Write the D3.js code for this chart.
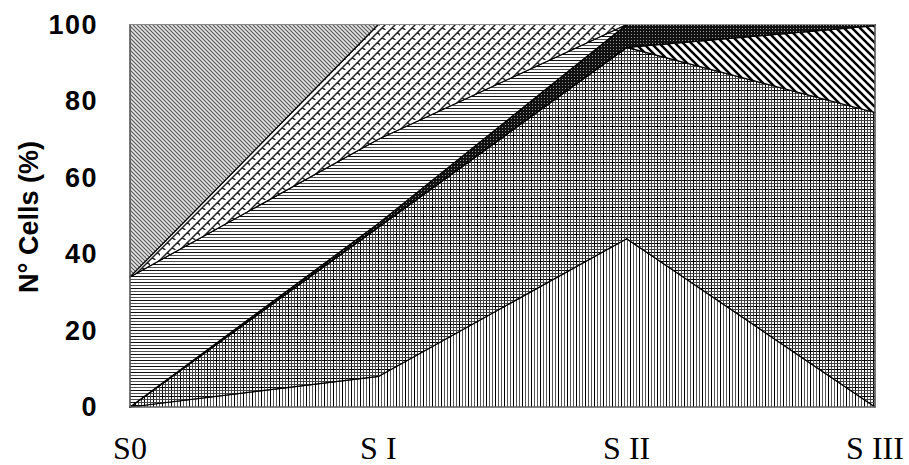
<html>
<head>
<meta charset="utf-8">
<script src="https://cdn.jsdelivr.net/npm/d3@7/dist/d3.min.js"></script>
<style>
  body { margin: 0; background: #fff; }
</style>
</head>
<body>
<div id="chart"></div>
<script>
// stages along the x axis
var categories = ["S0", "S I", "S II", "S III"];
// series, bottom of the stack first (percent of cells)
var vertical   = [0, 8, 44, 0];
var grid       = [0, 39, 50, 77];
var wideDiag   = [0, 0, 0, 22.7];
var dark       = [0, 1, 6, 0.3];
var horizontal = [34, 22, 0, 0];
var brick      = [0, 30, 0, 0];
var fineDiag   = [66, 0, 0, 0];
var yTicks = [0, 20, 40, 60, 80, 100];

var seriesNames = ["vertical", "grid", "wideDiag", "dark", "horizontal", "brick", "fineDiag"];
var seriesVals = [vertical, grid, wideDiag, dark, horizontal, brick, fineDiag];

var rows = categories.map(function (c, i) {
  var r = { cat: c };
  seriesNames.forEach(function (n, k) { r[n] = seriesVals[k][i]; });
  return r;
});

var W = 909, H = 465;
var svg = d3.select("#chart").append("svg").attr("width", W).attr("height", H);
var defs = svg.append("defs");

// hatch fills, roughly like the office patterns
function pat(id, w, h) {
  return defs.append("pattern").attr("id", id).attr("patternUnits", "userSpaceOnUse")
    .attr("width", w).attr("height", h);
}
var p;
p = pat("p-vertical", 9, 3);
p.append("rect").attr("width", 9).attr("height", 3).attr("fill", "#fff");
[0, 3, 6].forEach(function (v, i) {
  p.append("rect").attr("x", v).attr("width", 1).attr("height", 3).attr("fill", i == 0 ? "#000" : "#555");
});

p = pat("p-grid", 9, 9);
p.append("rect").attr("width", 9).attr("height", 9).attr("fill", "#fff");
[0, 3, 6].forEach(function (v, i) {
  var c = i == 0 ? "#000" : "#444";
  p.append("rect").attr("x", v).attr("width", 1).attr("height", 9).attr("fill", c);
  p.append("rect").attr("y", v).attr("width", 9).attr("height", 1).attr("fill", c);
});

p = pat("p-wideDiag", 8, 8);
p.append("rect").attr("width", 8).attr("height", 8).attr("fill", "#fff");
p.append("path").attr("d", "M-2,-2L10,10M-10,-2L2,10M6,-2L18,10").attr("stroke", "#000").attr("stroke-width", 2.4);

p = pat("p-dark", 3, 3);
p.append("rect").attr("width", 3).attr("height", 3).attr("fill", "#111");
p.append("rect").attr("x", 1).attr("y", 1).attr("width", 1).attr("height", 1).attr("fill", "#999");

p = pat("p-horizontal", 3, 6);
p.append("rect").attr("width", 3).attr("height", 6).attr("fill", "#fff");
p.append("rect").attr("y", 0).attr("width", 3).attr("height", 1).attr("fill", "#111");
p.append("rect").attr("y", 3).attr("width", 3).attr("height", 1).attr("fill", "#555");

p = pat("p-brick", 10, 10);
p.append("rect").attr("width", 10).attr("height", 10).attr("fill", "#fff");
p.append("path").attr("d", "M0,10L10,0M-5,5L5,-5M5,15L15,5M2.5,7.5L7.5,12.5M7.5,2.5L12.5,7.5").attr("stroke", "#222").attr("stroke-width", 1.5).attr("fill", "none");

p = pat("p-fineDiag", 4, 4);
p.append("rect").attr("width", 4).attr("height", 4).attr("fill", "#e4e4e4");
p.append("path").attr("d", "M-1,-1L5,5M-1,3L1,5M3,-1L5,1").attr("stroke", "#555").attr("stroke-width", 1.1);

var x = d3.scalePoint().domain(categories).range([130, 875]);
var y = d3.scaleLinear().domain([0, 100]).range([407, 24.5]);

var stack = d3.stack().keys(seriesNames);
var layers = stack(rows);

var area = d3.area()
  .x(function (d) { return x(d.data.cat); })
  .y0(function (d) { return y(d[0]); })
  .y1(function (d) { return y(d[1]); });

svg.append("g").selectAll("path")
  .data(layers)
  .enter().append("path")
  .attr("d", area)
  .attr("fill", function (d) { return "url(#p-" + d.key + ")"; })
  .attr("stroke", "#000")
  .attr("stroke-width", 1.2)
  .attr("stroke-linejoin", "round");

// plot frame
svg.append("rect")
  .attr("x", x.range()[0]).attr("y", y(100))
  .attr("width", x.range()[1] - x.range()[0]).attr("height", y(0) - y(100))
  .attr("fill", "none").attr("stroke", "#888").attr("stroke-width", 1);

// y axis
var yAxis = d3.axisLeft(y).tickValues(yTicks).tickSize(0).tickPadding(32);
var gy = svg.append("g").attr("transform", "translate(130,0)").call(yAxis);
gy.select(".domain").remove();
gy.selectAll("text")
  .style("font-family", "'Liberation Sans', Arial, sans-serif")
  .style("font-weight", "bold")
  .style("font-size", "27px")
  .style("letter-spacing", "1.5px")
  .attr("fill", "#000");

// x labels
svg.append("g").selectAll("text")
  .data(categories)
  .enter().append("text")
  .attr("x", function (d) { return x(d); })
  .attr("y", 459)
  .attr("text-anchor", "middle")
  .style("font-family", "'Liberation Serif', 'Times New Roman', serif")
  .style("font-size", "32px")
  .attr("fill", "#000")
  .text(function (d) { return d; });

// y title
svg.append("text")
  .attr("transform", "translate(38,217) rotate(-90)")
  .attr("text-anchor", "middle")
  .style("font-family", "'Liberation Sans', Arial, sans-serif")
  .style("font-weight", "bold")
  .style("font-size", "27px")
  .attr("fill", "#000")
  .text("N° Cells (%)");
</script>
</body>
</html>
